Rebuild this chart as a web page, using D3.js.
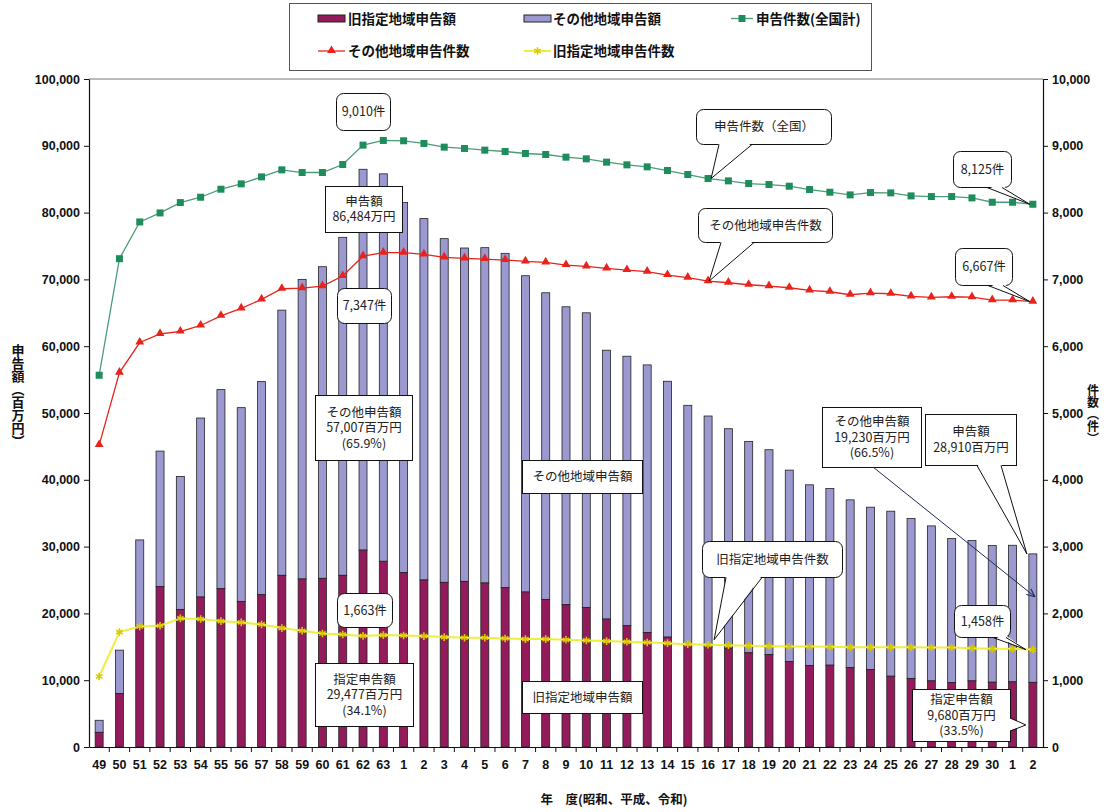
<!DOCTYPE html>
<html>
<head>
<meta charset="utf-8">
<script src="https://cdn.jsdelivr.net/npm/d3@7"></script>
<style>
body { margin: 0; background: #fff; }
text { font-family: "Liberation Sans", Arial, "Noto Sans CJK JP", sans-serif; }
.jp { font-family: "Noto Sans CJK JP", sans-serif; }
</style>
</head>
<body>
<div id="viz"></div>
<script>
// fiscal years: Showa 49-63, Heisei 1-30, Reiwa 1-2
var years = ['49','50','51','52','53','54','55','56','57','58','59','60','61','62','63',
	'1','2','3','4','5','6','7','8','9','10','11','12','13','14','15','16','17','18','19','20',
	'21','22','23','24','25','26','27','28','29','30','1','2'];

// declared amount, former designated areas (million yen)
var designatedAmount = [2200,8000,18000,24000,20600,22450,23700,21800,22800,25700,25150,25250,25700,29477,27800,
	26100,25000,24650,24800,24550,23850,23200,22100,21300,20900,19150,18150,17150,16450,15300,15000,14800,14100,13850,12800,
	12200,12250,11900,11600,10600,10250,9900,9650,9900,9700,9750,9680];

// declared amount, other areas (million yen)
var otherAmount = [1800,6500,13000,20300,19900,26800,29800,29000,31900,39700,44850,46650,50600,57007,58000,
	55400,54100,51450,49900,50200,50050,47350,45900,44600,44100,40250,40350,40050,38300,35850,34550,32850,31650,30650,28650,
	27050,26450,25100,24300,24700,23950,23200,21550,21000,20450,20450,19230];

// number of declarations, nationwide
var totalCount = [5565,7310,7860,7995,8150,8230,8350,8430,8535,8640,8600,8600,8720,9010,9080,
	9075,9035,8980,8960,8935,8915,8885,8870,8830,8805,8755,8715,8685,8630,8570,8510,8475,8435,8420,8395,
	8345,8305,8265,8300,8295,8250,8240,8240,8220,8155,8155,8125];

// number of declarations, other areas
var otherCount = [4520,5605,6055,6185,6220,6310,6455,6565,6700,6860,6870,6900,7050,7347,7400,
	7400,7375,7330,7315,7305,7290,7270,7255,7215,7195,7165,7140,7115,7065,7025,6975,6950,6920,6900,6875,
	6835,6815,6770,6795,6785,6745,6730,6740,6735,6690,6690,6667];

// number of declarations, former designated areas
var designatedCount = [1055,1720,1805,1815,1925,1915,1885,1865,1835,1780,1740,1700,1685,1663,1675,
	1670,1660,1645,1635,1635,1625,1615,1615,1605,1595,1585,1575,1565,1555,1540,1530,1525,1515,1510,1505,
	1505,1500,1495,1495,1495,1495,1490,1490,1480,1470,1470,1458];

var amountTicks = [0,10000,20000,30000,40000,50000,60000,70000,80000,90000,100000];
var countTicks = [0,1000,2000,3000,4000,5000,6000,7000,8000,9000,10000];

var colMaroon = '#931b5b';
var colLavender = '#9b99d0';
var colGreen = '#1f8c5b';
var colGreenLine = '#4a9c78';
var colRed = '#e8231c';
var colYellow = '#eeee40';
var colYellowMark = '#d9c900';

// create an svg - everything will be drawn on this
var svg = d3.select('#viz').append('svg')
	.attr('width', 1109)
	.attr('height', 812);

var plotL = 89, plotR = 1043, plotT = 79, plotB = 747;

var x = d3.scaleBand()
	.domain(d3.range(years.length))
	.range([plotL, plotR]);

function cx(i) { return x(i) + x.bandwidth() / 2; }

var y = d3.scaleLinear().domain([0, 100000]).range([plotB, plotT]);
var y2 = d3.scaleLinear().domain([0, 10000]).range([plotB, plotT]);

// frame of plot area
svg.append('line')
	.attr('x1', plotL).attr('x2', plotR).attr('y1', plotT).attr('y2', plotT)
	.attr('stroke', '#777').attr('stroke-width', 1);

// bars: stacked designated + other
var barW = 8;
var bars = svg.append('g').attr('id', 'bars');

bars.selectAll('.other')
	.data(otherAmount)
	.enter().append('rect')
	.attr('class', 'other')
	.attr('x', function(d, i) { return cx(i) - barW / 2; })
	.attr('y', function(d, i) { return y(designatedAmount[i] + d); })
	.attr('width', barW)
	.attr('height', function(d, i) { return y(designatedAmount[i]) - y(designatedAmount[i] + d); })
	.attr('fill', colLavender)
	.attr('stroke', '#222')
	.attr('stroke-width', 0.8);

bars.selectAll('.desig')
	.data(designatedAmount)
	.enter().append('rect')
	.attr('class', 'desig')
	.attr('x', function(d, i) { return cx(i) - barW / 2; })
	.attr('y', function(d) { return y(d); })
	.attr('width', barW)
	.attr('height', function(d) { return y(0) - y(d); })
	.attr('fill', colMaroon)
	.attr('stroke', '#222')
	.attr('stroke-width', 0.8);

// axes
var fmt = d3.format(',');

var yAxis = svg.append('g')
	.attr('transform', 'translate(' + plotL + ',0)')
	.call(d3.axisLeft(y).tickValues(amountTicks).tickFormat(fmt).tickSize(5).tickSizeOuter(0).tickPadding(4));

var yAxis2 = svg.append('g')
	.attr('transform', 'translate(' + plotR + ',0)')
	.call(d3.axisRight(y2).tickValues(countTicks).tickFormat(fmt).tickSize(5).tickSizeOuter(0).tickPadding(4));

var xAxis = svg.append('g')
	.attr('transform', 'translate(0,' + plotB + ')')
	.call(d3.axisBottom(x).tickFormat(function(i) { return years[i]; }).tickSize(0).tickSizeOuter(0).tickPadding(13));

[yAxis, yAxis2, xAxis].forEach(function(a) {
	a.select('.domain').attr('stroke', '#111').attr('stroke-width', 1.2);
	a.selectAll('.tick line').attr('stroke', '#111');
	a.selectAll('.tick text')
		.attr('fill', '#111')
		.style('font-size', '12.5px')
		.style('font-weight', 'bold');
});

// category separators below the x axis
svg.append('g').selectAll('line')
	.data(d3.range(1, years.length))
	.enter().append('line')
	.attr('x1', function(i) { return x(i); })
	.attr('x2', function(i) { return x(i); })
	.attr('y1', plotB)
	.attr('y2', plotB + 5)
	.attr('stroke', '#111');

// axis titles
svg.append('text')
	.attr('class', 'jp')
	.attr('x', 18).attr('y', 344)
	.attr('writing-mode', 'vertical-rl')
	.style('font-size', '13px')
	.style('font-weight', 'bold')
	.attr('fill', '#111')
	.text('申告額（百万円）');

svg.append('text')
	.attr('class', 'jp')
	.attr('x', 1093).attr('y', 384)
	.attr('writing-mode', 'vertical-rl')
	.style('font-size', '12px')
	.style('font-weight', 'bold')
	.attr('fill', '#111')
	.text('件数（件）');

svg.append('text')
	.attr('class', 'jp')
	.attr('x', 614).attr('y', 804)
	.attr('text-anchor', 'middle')
	.style('font-size', '12.5px')
	.style('font-weight', 'bold')
	.attr('fill', '#111')
	.text('年\u3000度(昭和、平成、令和)');

// lines
var line = d3.line()
	.x(function(d, i) { return cx(i); })
	.y(function(d) { return y2(d); });

svg.append('path')
	.datum(totalCount)
	.attr('d', line)
	.attr('fill', 'none')
	.attr('stroke', colGreenLine)
	.attr('stroke-width', 1.3);

svg.append('path')
	.datum(otherCount)
	.attr('d', line)
	.attr('fill', 'none')
	.attr('stroke', colRed)
	.attr('stroke-width', 1.3);

svg.append('path')
	.datum(designatedCount)
	.attr('d', line)
	.attr('fill', 'none')
	.attr('stroke', colYellow)
	.attr('stroke-width', 2);

// markers
svg.append('g').selectAll('rect')
	.data(totalCount)
	.enter().append('rect')
	.attr('x', function(d, i) { return cx(i) - 3.5; })
	.attr('y', function(d) { return y2(d) - 3.5; })
	.attr('width', 7).attr('height', 7)
	.attr('fill', colGreen);

var tri = d3.symbol().type(d3.symbolTriangle).size(34);
svg.append('g').selectAll('path')
	.data(otherCount)
	.enter().append('path')
	.attr('d', tri)
	.attr('transform', function(d, i) { return 'translate(' + cx(i) + ',' + (y2(d) - 0.5) + ')'; })
	.attr('fill', colRed);

var star = d3.symbol().type(d3.symbolAsterisk).size(40);
svg.append('g').selectAll('path')
	.data(designatedCount)
	.enter().append('path')
	.attr('d', star)
	.attr('transform', function(d, i) { return 'translate(' + cx(i) + ',' + y2(d) + ')'; })
	.attr('fill', 'none')
	.attr('stroke', colYellowMark)
	.attr('stroke-width', 1.6);

// legend
var legend = svg.append('g').attr('id', 'legend');
legend.append('rect')
	.attr('x', 289.5).attr('y', 3.5).attr('width', 582).attr('height', 67)
	.attr('fill', '#fff').attr('stroke', '#555');

function legendText(tx, ty, label) {
	legend.append('text')
		.attr('class', 'jp')
		.attr('x', tx).attr('y', ty + 5)
		.style('font-size', '13.5px')
		.style('font-weight', 'bold')
		.attr('fill', '#111')
		.text(label);
}

legend.append('rect').attr('x', 318).attr('y', 15).attr('width', 27).attr('height', 7)
	.attr('fill', colMaroon).attr('stroke', '#222');
legendText(348, 19, '旧指定地域申告額');

legend.append('rect').attr('x', 524).attr('y', 15).attr('width', 27).attr('height', 7)
	.attr('fill', colLavender).attr('stroke', '#222');
legendText(553, 19, 'その他地域申告額');

legend.append('line').attr('x1', 731).attr('x2', 753).attr('y1', 18.5).attr('y2', 18.5)
	.attr('stroke', colGreenLine).attr('stroke-width', 1.3);
legend.append('rect').attr('x', 738.5).attr('y', 15).attr('width', 7).attr('height', 7).attr('fill', colGreen);
legendText(756, 19, '申告件数(全国計)');

legend.append('line').attr('x1', 318).attr('x2', 345).attr('y1', 51).attr('y2', 51)
	.attr('stroke', colRed).attr('stroke-width', 1.3);
legend.append('path').attr('d', tri).attr('transform', 'translate(331.5,50.5)').attr('fill', colRed);
legendText(348, 51, 'その他地域申告件数');

legend.append('line').attr('x1', 524).attr('x2', 551).attr('y1', 51).attr('y2', 51)
	.attr('stroke', colYellow).attr('stroke-width', 2);
legend.append('path').attr('d', star).attr('transform', 'translate(537.5,51)')
	.attr('fill', 'none').attr('stroke', colYellowMark).attr('stroke-width', 1.6);
legendText(553, 51, '旧指定地域申告件数');

// callouts
var notes = svg.append('g').attr('id', 'notes');

function callout(c) {
	var g = notes.append('g');
	g.append('rect')
		.attr('x', c.x + 0.5).attr('y', c.y + 0.5)
		.attr('width', c.w).attr('height', c.h)
		.attr('rx', c.round ? 7 : 0)
		.attr('fill', '#fff')
		.attr('stroke', '#111')
		.attr('stroke-width', 1);
	if (c.tail) {
		var p1 = c.tail[0], p2 = c.tail[1], t = c.tip, d = c.inward;
		g.append('path')
			.attr('d', 'M' + (p1[0] + d[0]) + ',' + (p1[1] + d[1]) + 'L' + t[0] + ',' + t[1] +
				'L' + (p2[0] + d[0]) + ',' + (p2[1] + d[1]) + 'Z')
			.attr('fill', '#fff');
		g.append('path')
			.attr('d', 'M' + p1[0] + ',' + p1[1] + 'L' + t[0] + ',' + t[1] + 'L' + p2[0] + ',' + p2[1])
			.attr('fill', 'none')
			.attr('stroke', '#111')
			.attr('stroke-width', 1);
	}
	var lh = 15.5;
	var y0 = c.y + c.h / 2 - (c.lines.length - 1) * lh / 2 + 4.5;
	c.lines.forEach(function(s, k) {
		g.append('text')
			.attr('class', 'jp')
			.attr('x', c.x + c.w / 2 + 0.5)
			.attr('y', y0 + k * lh)
			.attr('text-anchor', 'middle')
			.style('font-size', '12.5px')
			.attr('fill', '#222')
			.text(s);
	});
}

var last = years.length - 1;
var hs16 = 30; // Heisei 16

callout({x: 336, y: 93, w: 54, h: 37, round: true, lines: ['9,010件']});
callout({x: 325, y: 186, w: 77, h: 46, lines: ['申告額', '86,484万円']});
callout({x: 337, y: 288, w: 54, h: 35, round: true, lines: ['7,347件']});
callout({x: 696, y: 109, w: 135, h: 35, round: true, lines: ['申告件数（全国）'],
	tail: [[719, 144.5], [752, 144.5]], inward: [0, -2], tip: [cx(hs16) + 3, y2(totalCount[hs16])]});
callout({x: 698, y: 208, w: 134, h: 34, round: true, lines: ['その他地域申告件数'],
	tail: [[721, 242.5], [754, 242.5]], inward: [0, -2], tip: [cx(hs16) + 1, y2(otherCount[hs16])]});
callout({x: 953, y: 151, w: 58, h: 36, round: true, lines: ['8,125件'],
	tail: [[987, 187.5], [1002, 187.5]], inward: [0, -2], tip: [cx(last) - 3, y2(totalCount[last])]});
callout({x: 955, y: 248, w: 57, h: 37, round: true, lines: ['6,667件'],
	tail: [[988, 285.5], [1003, 285.5]], inward: [0, -2], tip: [cx(last) - 3, y2(otherCount[last])]});
callout({x: 315, y: 395, w: 97, h: 65, lines: ['その他申告額', '57,007百万円', '(65.9%)']});
callout({x: 337, y: 593, w: 55, h: 34, round: true, lines: ['1,663件']});
callout({x: 315, y: 663, w: 98, h: 63, lines: ['指定申告額', '29,477百万円', '(34.1%)']});
callout({x: 522, y: 460, w: 120, h: 33, lines: ['その他地域申告額']});
callout({x: 522, y: 681, w: 120, h: 32, lines: ['旧指定地域申告額']});
callout({x: 702, y: 541, w: 140, h: 36, round: true, lines: ['旧指定地域申告件数'],
	tail: [[726, 577.5], [762, 577.5]], inward: [0, -2], tip: [cx(hs16) + 6, y2(designatedCount[hs16]) - 5]});
callout({x: 925, y: 414, w: 91, h: 51, lines: ['申告額', '28,910百万円'],
	tail: [[977, 465.5], [1001, 465.5]], inward: [0, -2],
	tip: [cx(last) - 6, y(designatedAmount[last] + otherAmount[last])]});
callout({x: 954, y: 605, w: 56, h: 32, round: true, lines: ['1,458件'],
	tail: [[993, 637.5], [1006, 637.5]], inward: [0, -2], tip: [cx(last) - 7, y2(designatedCount[last])]});
callout({x: 912, y: 689, w: 98, h: 52, lines: ['指定申告額', '9,680百万円', '(33.5%)'],
	tail: [[1010.5, 718], [1010.5, 731]], inward: [-2, 0], tip: [cx(last) - 7, y(3300)]});

// arrow from the "other" box into the last bar
svg.append('defs').append('marker')
	.attr('id', 'arrow')
	.attr('viewBox', '0 0 10 10')
	.attr('refX', 9).attr('refY', 5)
	.attr('markerWidth', 9).attr('markerHeight', 9)
	.attr('orient', 'auto')
	.append('path')
	.attr('d', 'M0,1L9,5L0,9')
	.attr('fill', 'none')
	.attr('stroke', '#1d2b5c')
	.attr('stroke-width', 1.2);

svg.append('line')
	.attr('x1', 873).attr('y1', 467)
	.attr('x2', cx(last) + 2).attr('y2', y(22500))
	.attr('stroke', '#1d2b5c')
	.attr('stroke-width', 1)
	.attr('marker-end', 'url(#arrow)');

callout({x: 822, y: 407, w: 99, h: 60, lines: ['その他申告額', '19,230百万円', '(66.5%)']});
</script>
</body>
</html>
